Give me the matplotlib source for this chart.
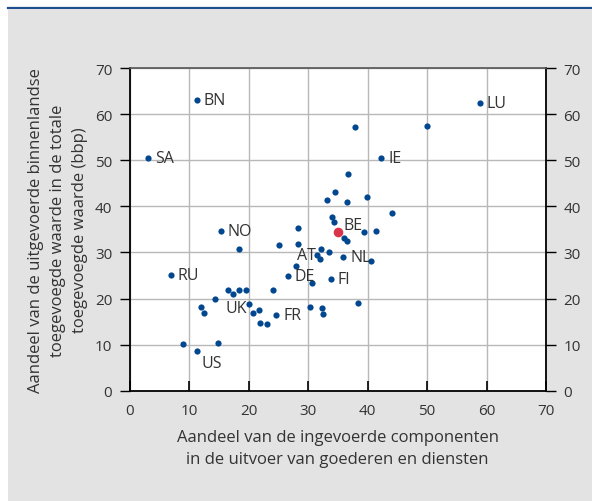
import matplotlib.pyplot as plt
from matplotlib.patches import Rectangle
from matplotlib.lines import Line2D

# imported components share of exports (x) vs domestic value added share (y)
labels = ["BN", "SA", "NO", "LU", "IE", "AT", "NL", "DE", "FI", "RU", "FR", "UK", "US"]
label_x = [11.3, 3.1, 15.3, 58.9, 42.3, 31.5, 35.9, 26.6, 33.8, 6.9, 24.7, 20.1, 11.3]
label_y = [63.1, 50.4, 34.6, 62.4, 50.5, 29.4, 29.1, 24.8, 24.2, 25.0, 16.4, 18.7, 8.7]

be_x = [35.0]
be_y = [34.5]

other_x = [37.85, 49.95, 36.8, 34.5, 33.2, 36.55, 39.9, 44.2, 34.0, 34.4, 28.4,
           39.4, 41.5, 36.05, 36.55, 28.4, 25.2, 18.45, 32.2, 33.6, 32.0, 40.6,
           27.9, 30.6, 16.5, 17.35, 18.4, 19.6, 24.2, 14.4, 12.0, 12.5, 20.75,
           21.8, 21.9, 23.1, 30.3, 32.35, 32.6, 38.35, 9.0, 14.8]
other_y = [57.3, 57.5, 47.1, 43.2, 41.4, 41.0, 42.0, 38.6, 37.7, 36.6, 35.2,
           34.4, 34.6, 33.2, 32.5, 31.8, 31.5, 30.7, 30.7, 30.0, 28.6, 28.1,
           27.1, 23.3, 21.9, 21.0, 21.9, 21.9, 21.9, 19.9, 18.2, 16.9, 16.8,
           17.4, 14.7, 14.5, 18.2, 17.9, 16.6, 19.0, 10.1, 10.3]

ticks = [0, 10, 20, 30, 40, 50, 60, 70]

blue = "#00478f"
red = "#d9344a"
txt = "#333333"

plt.rcParams["font.family"] = ["Open Sans", "DejaVu Sans"]

fig = plt.figure(figsize=(5.92, 5.02), dpi=100)
fig.patch.set_facecolor("white")
# grey panel + blue rule at the top
fig.patches.append(Rectangle((8 / 592, 0), 1 - 8 / 592, 1 - 10 / 502,
                             transform=fig.transFigure, facecolor="#e3e3e3",
                             edgecolor="none", zorder=-10))
fig.lines.append(Line2D([8 / 592, 1], [1 - 9 / 502, 1 - 9 / 502],
                        transform=fig.transFigure, color="#1d4f91", lw=1.6, zorder=-10))

ax = fig.add_axes([129.5 / 592, 1 - 391.7 / 502, (546 - 129.5) / 592, (391.7 - 69) / 502])
ax.set_facecolor("white")

ax.scatter(label_x + other_x, label_y + other_y, s=20, color=blue, zorder=3, linewidths=0)
ax.scatter(be_x, be_y, s=48, color=red, zorder=4, linewidths=0)

# label offsets in pixels
offs = {"AT": (-1, 0, "right"), "UK": (-2, -4, "right"), "US": (5, -12, "left")}
for lab, x, y in zip(labels, label_x, label_y):
    dx, dy, ha = offs.get(lab, (7, 0, "left"))
    ax.annotate(lab, (x, y), xytext=(dx, dy), textcoords="offset pixels",
                ha=ha, va="center", fontsize=11.5, color=txt, zorder=5)
ax.annotate("BE", (be_x[0], be_y[0]), xytext=(6, 7), textcoords="offset pixels",
            ha="left", va="center", fontsize=11.5, color=txt, zorder=5)

ax.set_xlim(0, 70)
ax.set_ylim(0, 70)
ax.set_xticks(ticks)
ax.set_yticks(ticks)
ax.grid(True, color="#b8b8b8", lw=1)
ax.set_axisbelow(True)

for s in ["left", "bottom", "right"]:
    ax.spines[s].set_color("black")
    ax.spines[s].set_linewidth(1.3)
ax.spines["top"].set_color("#555555")
ax.spines["top"].set_linewidth(1.2)

ax.tick_params(axis="x", direction="in", length=7, width=1.2, pad=9,
               labelsize=11, labelcolor=txt, color="black")
ax.tick_params(axis="y", direction="out", length=7.5, width=1, pad=5,
               labelsize=11, labelcolor=txt, color="black",
               right=True, labelright=True)

ax.set_xlabel("Aandeel van de ingevoerde componenten\nin de uitvoer van goederen en diensten",
              fontsize=12, color=txt, labelpad=8, linespacing=1.45)
ax.set_ylabel("Aandeel van de uitgevoerde binnenlandse\ntoegevoegde waarde in de totale\ntoegevoegde waarde (bbp)",
              fontsize=12, color=txt, labelpad=5, linespacing=1.5)

fig.savefig("out.png", dpi=100)
